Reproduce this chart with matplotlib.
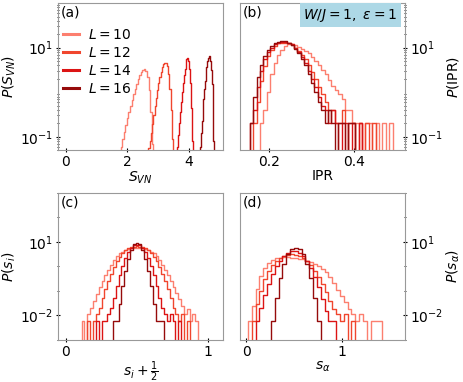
import numpy as np
import matplotlib.pyplot as plt
from matplotlib.ticker import LogLocator, NullFormatter
plt.rcParams.update({'font.size': 10})

Ls = [10, 12, 14, 16]
colors = ['#fc7f6f', '#f0462e', '#dc1414', '#960b0b']

# (a) entanglement entropy histograms
svn_x10 = [1.76, 1.81, 1.86, 1.91, 1.96, 2.01, 2.06, 2.11, 2.16, 2.21, 2.26, 2.31,
           2.36, 2.41, 2.46, 2.51, 2.56, 2.61, 2.66, 2.71, 2.76, 2.81, 2.86]
svn_p10 = [0, 0.06, 0.09, 0.13, 0.18, 0.26, 0.36, 0.5, 0.68, 0.9, 1.2, 1.55,
           1.95, 2.4, 2.85, 3.2, 3.3, 3.0, 2.2, 1.1, 0.35, 0.07, 0]
svn_x12 = [2.66, 2.70, 2.74, 2.78, 2.82, 2.86, 2.90, 2.94, 2.98, 3.02, 3.06,
           3.10, 3.14, 3.18, 3.22, 3.26, 3.30, 3.34, 3.38, 3.42, 3.46, 3.50]
svn_p12 = [0, 0.055, 0.08, 0.12, 0.19, 0.3, 0.48, 0.75, 1.1, 1.6, 2.2,
           2.9, 3.6, 4.2, 4.6, 4.5, 3.8, 2.5, 1.2, 0.4, 0.09, 0]
svn_x14 = [3.60, 3.63, 3.66, 3.69, 3.72, 3.75, 3.78, 3.81, 3.84, 3.87, 3.90,
           3.93, 3.96, 3.99, 4.02, 4.05, 4.08, 4.11, 4.14]
svn_p14 = [0, 0.06, 0.11, 0.2, 0.35, 0.6, 1.0, 1.6, 2.4, 3.4, 4.6,
           5.6, 5.8, 5.0, 3.4, 1.6, 0.45, 0.08, 0]
svn_x16 = [4.35, 4.375, 4.40, 4.425, 4.45, 4.475, 4.50, 4.525, 4.55, 4.575,
           4.60, 4.625, 4.65, 4.675, 4.70, 4.725, 4.75, 4.775, 4.80, 4.825]
svn_p16 = [0, 0.06, 0.12, 0.22, 0.4, 0.7, 1.15, 1.8, 2.7, 3.7,
           4.9, 5.9, 6.5, 6.2, 5.0, 3.2, 1.5, 0.45, 0.08, 0]

# (b) IPR histograms
ipr_bins = [0.150, 0.158, 0.166, 0.174, 0.182, 0.190, 0.198, 0.206, 0.214, 0.222,
            0.230, 0.238, 0.246, 0.254, 0.262, 0.270, 0.278, 0.286, 0.294, 0.302,
            0.310, 0.318, 0.326, 0.334, 0.342, 0.350, 0.358, 0.366, 0.374, 0.382,
            0.390, 0.398, 0.406, 0.414, 0.422, 0.430, 0.438, 0.446, 0.454, 0.462,
            0.470, 0.478, 0.486, 0.494]
ipr_p10 = [0, 0, 0, 0, 0.2, 0.4, 1.0, 2.5, 4.5, 7, 9, 11, 12, 12, 11.5, 10.5, 9.5, 8.5,
           7.5, 6.2, 5, 4, 3.2, 2.5, 1.9, 1.4, 1.1, 0.9, 0.7, 0.4, 0.4, 0.2, 0.2, 0.2,
           0, 0.2, 0.2, 0, 0.2, 0, 0.2, 0, 0.2, 0]
ipr_p12 = [0, 0, 0.2, 0.6, 1.8, 3.8, 6.5, 9, 11, 12.5, 13, 13, 12.5, 11.5, 10, 8.5, 7,
           5.5, 4.0, 2.8, 2.0, 1.3, 0.9, 0.6, 0.4, 0.4, 0.2, 0.2, 0.4, 0, 0.2, 0.2, 0,
           0.2, 0, 0.2, 0, 0.2, 0, 0, 0, 0, 0, 0]
ipr_p14 = [0, 0.2, 0.4, 1.3, 3.0, 5.5, 8, 10, 12, 13, 13.5, 13.5, 13, 12, 10, 8, 6.2,
           4.5, 3.0, 2.0, 1.3, 0.8, 0.5, 0.4, 0.2, 0.4, 0.2, 0, 0.2, 0.2, 0, 0.2, 0,
           0.2, 0, 0, 0, 0, 0, 0, 0, 0, 0, 0]
ipr_p16 = [0, 0.2, 0.8, 2.2, 4.0, 6.5, 9.0, 11, 12.5, 13.5, 14, 14, 13, 11.5, 9.5, 7.5,
           5.5, 4.0, 2.6, 1.6, 1.0, 0.6, 0.4, 0.2, 0.4, 0.2, 0, 0.2, 0.2, 0, 0.2, 0.2,
           0, 0, 0, 0, 0, 0, 0, 0, 0, 0, 0, 0]

# (c) s_i + 1/2 histograms
si_bins = [0.10, 0.12, 0.14, 0.16, 0.18, 0.20, 0.22, 0.24, 0.26, 0.28, 0.30, 0.32,
           0.34, 0.36, 0.38, 0.40, 0.42, 0.44, 0.46, 0.48, 0.50, 0.52, 0.54, 0.56,
           0.58, 0.60, 0.62, 0.64, 0.66, 0.68, 0.70, 0.72, 0.74, 0.76, 0.78, 0.80,
           0.82, 0.84, 0.86, 0.88, 0.90, 0.92, 0.94]
si_p10 = [0, 0.006, 0, 0.012, 0.02, 0.04, 0.075, 0.14, 0.26, 0.45, 0.75, 1.2, 1.8,
          2.6, 3.4, 4.0, 4.6, 5.1, 5.5, 5.7, 5.8, 5.7, 5.5, 5.1, 4.6, 4.0, 3.4, 2.6,
          1.8, 1.2, 0.75, 0.45, 0.26, 0.15, 0.085, 0.045, 0.025, 0.012, 0.018, 0.006,
          0.012, 0.006, 0]
si_p12 = [0, 0, 0, 0.006, 0, 0.006, 0.012, 0.02, 0.05, 0.12, 0.26, 0.51, 0.95, 1.6,
          2.5, 3.5, 4.6, 5.5, 6.1, 6.5, 6.6, 6.5, 6.1, 5.5, 4.6, 3.5, 2.5, 1.6, 0.95,
          0.51, 0.26, 0.12, 0.05, 0.02, 0.012, 0.006, 0.012, 0, 0.006, 0, 0, 0, 0]
si_p14 = [0, 0, 0, 0, 0, 0, 0.006, 0, 0.006, 0.006, 0.012, 0.02, 0.05, 0.16, 0.45,
          1.08, 2.2, 3.9, 5.7, 7.2, 7.8, 7.2, 5.7, 3.9, 2.2, 1.08, 0.45, 0.16, 0.05,
          0.02, 0.012, 0.006, 0.012, 0.006, 0, 0.006, 0, 0, 0, 0, 0, 0, 0]
si_p16 = [0, 0, 0, 0, 0, 0, 0, 0, 0, 0, 0, 0, 0.006, 0.006, 0.03, 0.16, 0.68, 2.1,
          4.8, 7.9, 9.2, 7.9, 4.8, 2.1, 0.68, 0.16, 0.03, 0.006, 0.006, 0.006, 0, 0,
          0, 0, 0, 0, 0, 0, 0, 0, 0, 0, 0]

# (d) s_alpha histograms
sa_bins = [0.00, 0.04, 0.08, 0.12, 0.16, 0.20, 0.24, 0.28, 0.32, 0.36, 0.40, 0.44,
           0.48, 0.52, 0.56, 0.60, 0.64, 0.68, 0.72, 0.76, 0.80, 0.84, 0.88, 0.92,
           0.96, 1.00, 1.04, 1.08, 1.12, 1.16, 1.20, 1.24, 1.28, 1.32, 1.36, 1.40, 1.44]
sa_p10 = [0, 0.006, 0.025, 0.12, 0.4, 0.87, 1.4, 1.85, 2.15, 2.3, 2.35, 2.35, 2.3,
          2.25, 2.1, 1.95, 1.75, 1.5, 1.25, 1.0, 0.8, 0.58, 0.37, 0.21, 0.11, 0.06,
          0.035, 0.018, 0.012, 0.006, 0.012, 0.006, 0, 0.006, 0.006, 0.006, 0]
sa_p12 = [0, 0, 0.006, 0.03, 0.1, 0.3, 0.65, 1.15, 1.7, 2.2, 2.6, 2.9, 3.1, 3.0, 2.7,
          2.2, 1.65, 1.1, 0.68, 0.38, 0.19, 0.09, 0.04, 0.018, 0.012, 0.006, 0.012, 0,
          0.006, 0, 0, 0, 0, 0, 0, 0, 0]
sa_p14 = [0, 0, 0, 0.006, 0.02, 0.07, 0.2, 0.5, 1.0, 1.75, 2.6, 3.5, 4.1, 4.2, 3.6,
          2.6, 1.6, 0.85, 0.38, 0.14, 0.045, 0.015, 0.006, 0.006, 0, 0, 0, 0, 0, 0,
          0, 0, 0, 0, 0, 0, 0]
sa_p16 = [0, 0, 0, 0, 0, 0, 0, 0.006, 0.05, 0.33, 1.25, 3.1, 5.0, 5.7, 5.0, 3.1, 1.25,
          0.33, 0.05, 0.006, 0, 0, 0, 0, 0, 0, 0, 0, 0, 0, 0, 0, 0, 0, 0, 0, 0]

fig = plt.figure(figsize=(4.63, 3.82), dpi=100)
w, h = 0.3564, 0.3848
axa = fig.add_axes([0.1253, 0.607, w, h])
axb = fig.add_axes([0.5184, 0.607, w, h])
axc = fig.add_axes([0.1253, 0.110, w, h])
axd = fig.add_axes([0.5184, 0.110, w, h])

svn_x = [svn_x10, svn_x12, svn_x14, svn_x16]
svn_p = [svn_p10, svn_p12, svn_p14, svn_p16]
for i in range(4):
  axa.plot(svn_x[i], svn_p[i], drawstyle='steps-mid', color=colors[i], lw=1.0)
  axa.plot([], [], color=colors[i], lw=2.2, label=r'$L=%d$' % Ls[i])
for i, ys in enumerate([ipr_p10, ipr_p12, ipr_p14, ipr_p16]):
  axb.plot(ipr_bins, ys, drawstyle='steps-mid', color=colors[i], lw=1.0)
for i, ys in enumerate([si_p10, si_p12, si_p14, si_p16]):
  axc.plot(si_bins, ys, drawstyle='steps-mid', color=colors[i], lw=1.0)
for i, ys in enumerate([sa_p10, sa_p12, sa_p14, sa_p16]):
  axd.plot(sa_bins, ys, drawstyle='steps-mid', color=colors[i], lw=1.0)

for ax in [axa, axb, axc, axd]:
  ax.set_yscale('log', nonpositive='clip')
  for sp in ax.spines.values():
    sp.set_color('0.6')
  ax.tick_params(which='both', direction='inout', pad=2)
  ax.tick_params(which='major', length=3.5)
  ax.tick_params(which='minor', length=2)

for ax in [axa, axb]:
  ax.set_ylim(0.05, 100)
  ax.set_yticks([0.1, 10])
  ax.yaxis.set_minor_locator(LogLocator(base=10, subs=np.arange(2, 10), numticks=20))
for ax in [axc, axd]:
  ax.set_ylim(1e-3, 1e3)
  ax.set_yticks([1e-2, 1e1])
  ax.yaxis.set_minor_locator(LogLocator(base=10, subs=(1.0,), numticks=20))
for ax in [axa, axb, axc, axd]:
  ax.yaxis.set_minor_formatter(NullFormatter())

for ax in [axb, axd]:
  ax.yaxis.tick_right()
  ax.yaxis.set_label_position('right')

axa.set_xlim(-0.25, 5.1)
axa.set_xticks([0, 2, 4])
axb.set_xlim(0.131, 0.519)
axb.set_xticks([0.2, 0.4])
axc.set_xlim(-0.056, 1.105)
axc.set_xticks([0, 1])
axd.set_xlim(-0.063, 1.66)
axd.set_xticks([0, 1])

axa.set_xlabel(r'$S_{VN}$', labelpad=0)
axa.set_ylabel(r'$P(S_{VN})$', labelpad=1)
axb.set_xlabel('IPR', labelpad=0)
axb.set_ylabel(r'$P(\mathrm{IPR})$', labelpad=1)
axc.set_xlabel(r'$s_i+\frac{1}{2}$', labelpad=0)
axc.set_ylabel(r'$P(s_i)$', labelpad=1)
axd.set_xlabel(r'$s_\alpha$', labelpad=0)
axd.set_ylabel(r'$P(s_\alpha)$', labelpad=1)

for ax, lab in zip([axa, axb, axc, axd], ['(a)', '(b)', '(c)', '(d)']):
  ax.text(0.015, 0.985, lab, transform=ax.transAxes, ha='left', va='top')

axa.legend(loc='upper left', bbox_to_anchor=(-0.03, 0.9), frameon=False,
           handlelength=1.2, handletextpad=0.6, labelspacing=0.3, borderpad=0.2)
axb.text(0.955, 0.975, r'$W/J=1,\ \varepsilon=1$', transform=axb.transAxes,
         ha='right', va='top',
         bbox=dict(boxstyle='square,pad=0.25', facecolor='#add8e6', edgecolor='none'))

plt.savefig('out.png', dpi=100)
